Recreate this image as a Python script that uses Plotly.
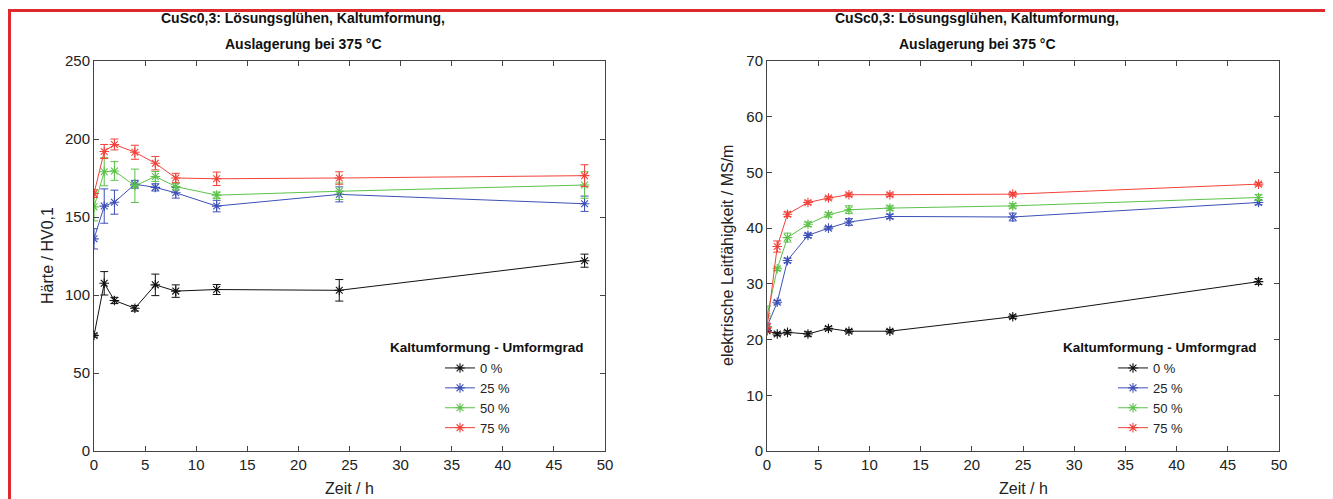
import plotly.graph_objects as go

# ---------------- data ----------------
time_h = [0, 1, 2, 4, 6, 8, 12, 24, 48]
series_names = ["0 %", "25 %", "50 %", "75 %"]

hv_0 = [74, 107.5, 96.5, 91.5, 106.5, 102.5, 103.5, 103, 122]
hv_0_err = [1, 7.5, 2, 1.8, 6.9, 4, 3.2, 6.9, 4.2]
hv_25 = [136, 157, 159.5, 171, 169, 165.5, 157, 164.5, 158.5]
hv_25_err = [6.5, 11, 7.7, 2.5, 2.3, 3.4, 3.7, 4.8, 4.9]
hv_50 = [156.5, 179, 179.5, 170, 176, 169.5, 164, 166.5, 170.5]
hv_50_err = [9, 9, 6, 10.7, 3.2, 2.1, 2, 5.3, 8.5]
hv_75 = [165, 192, 196.5, 191.5, 184.5, 175, 174.5, 175, 176.5]
hv_75_err = [2.5, 4.5, 3.5, 4.5, 4.3, 3, 4.3, 4, 7]

lf_0 = [21.6, 21.0, 21.3, 21.0, 22.0, 21.5, 21.5, 24.1, 30.4]
lf_0_err = [0.3, 0.3, 0.3, 0.4, 0.3, 0.3, 0.3, 0.3, 0.5]
lf_25 = [22.3, 26.7, 34.2, 38.7, 40.0, 41.1, 42.1, 42.0, 44.6]
lf_25_err = [0.6, 0.3, 0.4, 0.4, 0.3, 0.6, 0.4, 0.7, 0.4]
lf_50 = [24.2, 32.7, 38.3, 40.7, 42.4, 43.3, 43.6, 44.0, 45.5]
lf_50_err = [1.8, 0.3, 0.8, 0.4, 0.4, 0.7, 0.4, 0.4, 0.5]
lf_75 = [22.1, 36.7, 42.5, 44.6, 45.4, 46.0, 46.0, 46.1, 47.9]
lf_75_err = [0.8, 1.0, 0.4, 0.3, 0.3, 0.3, 0.3, 0.3, 0.3]

x_ticks = [0, 5, 10, 15, 20, 25, 30, 35, 40, 45, 50]
hv_ticks = [0, 50, 100, 150, 200, 250]
lf_ticks = [0, 10, 20, 30, 40, 50, 60, 70]

title_line1 = "CuSc0,3: Lösungsglühen, Kaltumformung,"
title_line2 = "Auslagerung bei 375 °C"
legend_title = "Kaltumformung - Umformgrad"

colors = ["#111111", "#3d50b6", "#5cc24a", "#f2423a"]

W, H = 1333, 499
OFF = 8  # page body margin
FONT = "Liberation Sans, Arial, sans-serif"

fig = go.Figure()

hv_sets = [(hv_0, hv_0_err), (hv_25, hv_25_err), (hv_50, hv_50_err), (hv_75, hv_75_err)]
lf_sets = [(lf_0, lf_0_err), (lf_25, lf_25_err), (lf_50, lf_50_err), (lf_75, lf_75_err)]


def add_series(sets, xa, ya, leg):
    for (vals, errs), name, c in zip(sets, series_names, colors):
        fig.add_trace(go.Scatter(
            x=time_h, y=vals, name=name, mode="lines+markers",
            line=dict(color=c, width=1),
            marker=dict(symbol="asterisk-open", size=8, color=c, line=dict(color=c, width=1.1)),
            error_y=dict(type="data", array=errs, visible=True, color=c, thickness=1, width=4),
            xaxis=xa, yaxis=ya, legend=leg,
        ))


add_series(hv_sets, "x", "y", "legend")
add_series(lf_sets, "x2", "y2", "legend2")

# pixel layout (screen coords)
px_left = (94, 605)
px_right = (767, 1279)
py_top, py_bot = 61, 451


def fx(p):
    return (p - OFF) / W


def fy(p):
    return (H - (p - OFF)) / H


axis_common = dict(
    showgrid=False, zeroline=False, showline=True, linecolor="#444444", linewidth=1,
    mirror="ticks", ticks="inside", ticklen=5, tickcolor="#444444", tickwidth=1,
    tickfont=dict(family=FONT, size=15, color="#222222"), automargin=False,
)

legend_common = dict(
    xanchor="left", yanchor="top", bgcolor="rgba(255,255,255,0)",
    font=dict(family=FONT, size=13, color="#222222"), tracegroupgap=0,
)

fig.update_layout(
    width=W, height=H,
    margin=dict(l=0, r=0, t=0, b=0),
    paper_bgcolor="white", plot_bgcolor="white",
    font=dict(family=FONT, color="#222222"),
    xaxis=dict(domain=[fx(px_left[0]), fx(px_left[1])], range=[0, 50], tickvals=x_ticks,
               anchor="y", **axis_common),
    yaxis=dict(domain=[fy(py_bot), fy(py_top)], range=[0, 250], tickvals=hv_ticks,
               anchor="x", **axis_common),
    xaxis2=dict(domain=[fx(px_right[0]), fx(px_right[1])], range=[0, 50], tickvals=x_ticks,
                anchor="y2", **axis_common),
    yaxis2=dict(domain=[fy(py_bot), fy(py_top)], range=[0, 70], tickvals=lf_ticks,
                anchor="x2", **axis_common),
    legend=dict(x=fx(440), y=fy(353), **legend_common),
    legend2=dict(x=fx(1113), y=fy(353), **legend_common),
    showlegend=True,
)


def ann(text, x, y, size, bold=False, angle=0):
    return dict(text=f"<b>{text}</b>" if bold else text, x=fx(x), y=fy(y),
                xref="paper", yref="paper", xanchor="center", yanchor="middle",
                showarrow=False, textangle=angle,
                font=dict(family=FONT, size=size, color="#111111" if bold else "#222222"))


annotations = []
for cx in (303, 977):
    annotations.append(ann(title_line1, cx, 18, 14, bold=True))
    annotations.append(ann(title_line2, cx, 44, 14, bold=True))
annotations.append(ann(legend_title, 487, 347, 13.5, bold=True))
annotations.append(ann(legend_title, 1160, 347, 13.5, bold=True))
annotations.append(ann("Zeit / h", (px_left[0] + px_left[1]) / 2, 488, 16))
annotations.append(ann("Zeit / h", (px_right[0] + px_right[1]) / 2, 488, 16))
annotations.append(ann("Härte / HV0,1", 47, (py_top + py_bot) / 2, 16, angle=-90))
annotations.append(ann("elektrische Leitfähigkeit / MS/m", 727, (py_top + py_bot) / 2, 16, angle=-90))
fig.update_layout(annotations=annotations)

# red frame
fig.add_shape(type="rect", xref="paper", yref="paper",
              x0=fx(9.5), y0=-0.05, x1=1.05, y1=fy(10.5),
              line=dict(color="#dd2a2f", width=3), fillcolor="rgba(0,0,0,0)", layer="above")

fig.write_html("out.html")
